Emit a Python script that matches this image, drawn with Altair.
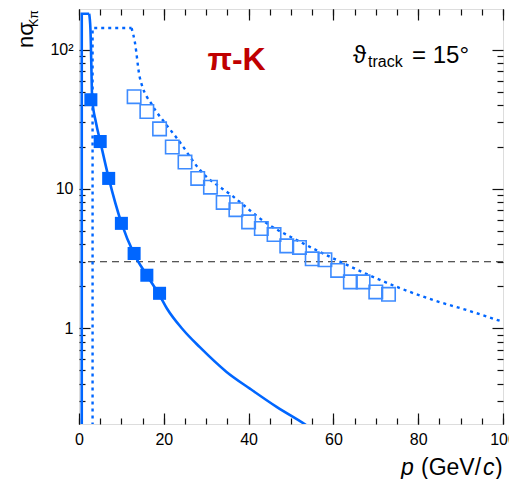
import altair as alt
import pandas as pd

# ---- data ----
solid_p = [0.65, 0.65, 2.4, 2.7, 2.9, 3.1, 4.0, 5.0, 7.0, 10.0, 13.0, 16.0, 19.0, 20.7, 24.6, 28.5, 34.8, 40.3, 46.6, 53.3, 56.0]
solid_n = [0.1, 181, 181, 140, 80, 45, 30, 22, 12, 5.7, 3.4, 2.4, 1.72, 1.39, 0.97, 0.73, 0.485, 0.368, 0.272, 0.204, 0.18]

dot_p = [3.2, 3.2, 12.4, 13.2, 14.3, 17.5, 20.3, 23.4, 28.5, 36.4, 44.3, 52.1, 61.6, 75.7, 83.6, 91.4, 100]
dot_n = [0.1, 143, 143, 112, 64, 39, 29.7, 22.5, 13.7, 8.8, 5.66, 4.18, 3.0, 1.94, 1.59, 1.35, 1.11]

fill_p = [2.8, 5, 7, 10, 13, 16, 19]
fill_n = [43.7, 21.9, 11.9, 5.66, 3.44, 2.40, 1.78]

open_p = [13, 16, 19, 22, 25, 28, 31, 34, 37, 40, 43, 46, 49, 52, 55, 58, 61, 64, 67, 70, 73]
open_n = [46, 36, 27, 20, 15.6, 11.9, 10.3, 8.0, 7.1, 5.8, 5.2, 4.7, 3.9, 3.8, 3.15, 3.1, 2.6, 2.15, 2.15, 1.82, 1.75]

threshold = [3]

x_major = [0, 20, 40, 60, 80, 100]
x_minor = [0, 5, 10, 15, 20, 25, 30, 35, 40, 45, 50, 55, 60, 65, 70, 75, 80, 85, 90, 95, 100]
y_major = [1, 10, 100]
y_minor = [0.3, 0.4, 0.5, 0.6, 0.7, 0.8, 0.9, 2, 3, 4, 5, 6, 7, 8, 9, 20, 30, 40, 50, 60, 70, 80, 90]

label_pk = ["π-K"]
label_theta = ["ϑ"]
label_track = ["track"]
label_eq = ["= 15°"]
ytitle_main = ["nσ"]
ytitle_sub = ["Kπ"]
xtitle_p = ["p"]
xtitle_mid = ["(GeV/"]
xtitle_c = ["c"]
xtitle_end = [")"]

FONT = "Liberation Sans"
BLUE = "#0066ff"
OPEN_BLUE = "#3d8bff"

xs = alt.Scale(domain=[0, 100], nice=False, zero=False)
ys = alt.Scale(type="log", domain=[0.205, 196], nice=False)


def ax(orient, values, size, labels, axis_y=False):
    kw = dict(orient=orient, values=values, tickSize=size, offset=-size, domain=False,
              grid=False, title=None, tickColor="#111111", tickWidth=1.2, labels=labels)
    if labels:
        kw.update(labelFont=FONT, labelFontSize=16, labelColor="black", labelPadding=7,
                  labelOverlap=False, labelFlush=False)
        if axis_y:
            kw.update(labelExpr="datum.value == 100 ? '10²' : datum.value == 10 ? '10' : '1'",
                      labelPadding=6)
    return alt.Axis(**kw)


# split each curve: the vertical edge + flat top drawn straight, the falling part smoothed
solid_edge = pd.DataFrame({"p": solid_p[:3], "n": solid_n[:3], "i": range(3)})
solid_tail = pd.DataFrame({"p": solid_p[2:], "n": solid_n[2:]})
dot_edge = pd.DataFrame({"p": dot_p[:3], "n": dot_n[:3], "i": range(3)})
dot_tail = pd.DataFrame({"p": dot_p[2:], "n": dot_n[2:]})
fill_df = pd.DataFrame({"p": fill_p, "n": fill_n})
open_df = pd.DataFrame({"p": open_p, "n": open_n})
thr_df = pd.DataFrame({"n": threshold})

solid_a = alt.Chart(solid_edge).mark_line(color=BLUE, strokeWidth=2.6, clip=True).encode(
    x=alt.X("p:Q", scale=xs, axis=ax("bottom", x_major, 11, True)),
    y=alt.Y("n:Q", scale=ys, axis=ax("left", y_major, 11, True, axis_y=True)),
    order="i:Q",
)
solid_b = alt.Chart(solid_tail).mark_line(color=BLUE, strokeWidth=2.6, clip=True,
                                          interpolate="monotone").encode(
    x=alt.X("p:Q", scale=xs, axis=None),
    y=alt.Y("n:Q", scale=ys, axis=None),
)

dotted_a = alt.Chart(dot_edge).mark_line(color=BLUE, strokeWidth=2.4, strokeDash=[3, 4], clip=True).encode(
    x=alt.X("p:Q", scale=xs, axis=ax("bottom", x_minor, 6, False)),
    y=alt.Y("n:Q", scale=ys, axis=ax("left", y_minor, 6, False)),
    order="i:Q",
)
dotted_b = alt.Chart(dot_tail).mark_line(color=BLUE, strokeWidth=2.4, strokeDash=[3, 4], clip=True,
                                         interpolate="monotone").encode(
    x=alt.X("p:Q", scale=xs, axis=None),
    y=alt.Y("n:Q", scale=ys, axis=None),
)

filled = alt.Chart(fill_df).mark_point(shape="square", filled=True, size=170, color=BLUE, opacity=1).encode(
    x=alt.X("p:Q", scale=xs, axis=ax("top", x_major, 11, False)),
    y=alt.Y("n:Q", scale=ys, axis=ax("right", y_major, 11, False)),
)

opened = alt.Chart(open_df).mark_point(shape="square", filled=False, size=180, color=OPEN_BLUE,
                                       strokeWidth=1.6, opacity=1).encode(
    x=alt.X("p:Q", scale=xs, axis=ax("top", x_minor, 6, False)),
    y=alt.Y("n:Q", scale=ys, axis=ax("right", y_minor, 6, False)),
)

thr = alt.Chart(thr_df).mark_rule(color="#222222", strokeWidth=1, strokeDash=[7, 5]).encode(
    y=alt.Y("n:Q", scale=ys, axis=None),
)


def txt(values, x, y, size, **kw):
    df = pd.DataFrame({"t": values})
    return alt.Chart(df).mark_text(font=FONT, fontSize=size, baseline="alphabetic", **kw).encode(
        x=alt.value(x), y=alt.value(y), text="t:N")


texts = [
    txt(label_pk, 157.5, 61, 32, align="center", fontWeight="bold", color="#c00000"),
    txt(label_theta, 274, 54, 24, align="left", color="black"),
    txt(label_track, 289, 58, 16, align="left", color="black"),
    txt(label_eq, 333, 54, 24, align="left", color="black"),
    txt(ytitle_main, -46, 39, 22, align="left", angle=270, color="black"),
    txt(ytitle_sub, -41, 18, 12.5, align="left", angle=270, color="black"),
    txt(xtitle_p, 322, 466, 23, align="left", fontStyle="italic", color="black"),
    txt(xtitle_mid, 342, 466, 23, align="left", color="black"),
    txt(xtitle_c, 404, 466, 23, align="left", fontStyle="italic", color="black"),
    txt(xtitle_end, 416, 466, 23, align="left", color="black"),
]

chart = alt.layer(thr, dotted_a, dotted_b, solid_a, solid_b, opened, filled, *texts).resolve_axis(
    x="independent", y="independent"
).properties(
    width=424, height=415,
    autosize=alt.AutoSizeParams(type="none"),
    padding={"left": 71, "top": 1, "right": 6, "bottom": 55},
).configure_view(stroke="black", strokeWidth=1).configure(background="white")

chart.save("out.html", embed_options={"renderer": "svg", "actions": False})
